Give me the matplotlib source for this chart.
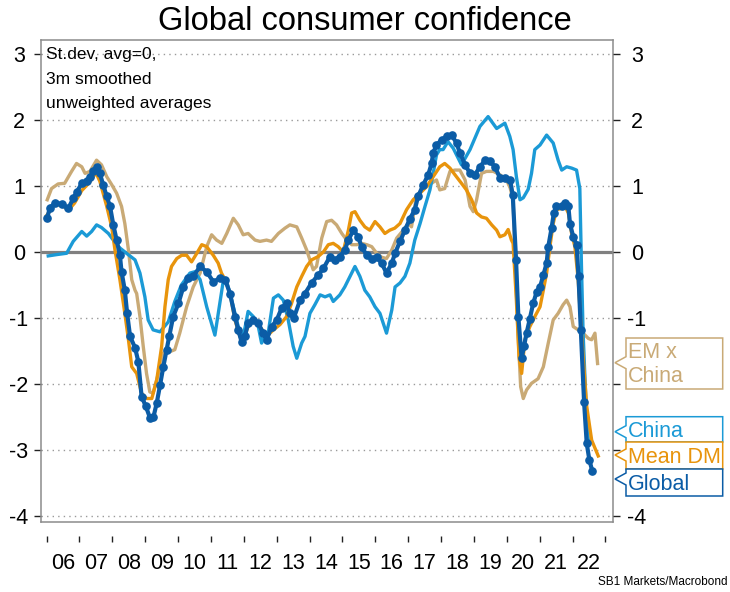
import matplotlib
matplotlib.use('Agg')
import matplotlib.pyplot as plt
from matplotlib.patches import Polygon

plt.rcParams['font.family'] = ['Liberation Sans', 'DejaVu Sans']

# ========================
# data (decimal years)
# ========================
global_t = [2006.02, 2006.10, 2006.26, 2006.46, 2006.66, 2006.81, 2006.92, 2007.07, 2007.22, 2007.32,
            2007.42, 2007.52, 2007.62, 2007.72, 2007.83, 2007.93, 2008.03, 2008.13, 2008.23, 2008.28,
            2008.38, 2008.45, 2008.54, 2008.69, 2008.79, 2008.89, 2009.02, 2009.15, 2009.25, 2009.35,
            2009.45, 2009.55, 2009.65, 2009.73, 2009.85, 2010.01, 2010.16, 2010.31, 2010.46, 2010.67,
            2010.87, 2011.07, 2011.27, 2011.43, 2011.58, 2011.73, 2011.83, 2011.93, 2012.03, 2012.13,
            2012.29, 2012.44, 2012.59, 2012.69, 2012.85, 2013.00, 2013.15, 2013.30, 2013.40, 2013.52,
            2013.71, 2013.86, 2014.06, 2014.26, 2014.42, 2014.62, 2014.77, 2014.92, 2015.07, 2015.18,
            2015.33, 2015.48, 2015.58, 2015.74, 2015.89, 2016.04, 2016.19, 2016.34, 2016.50, 2016.60,
            2016.75, 2016.90, 2017.05, 2017.20, 2017.30, 2017.46, 2017.61, 2017.71, 2017.76, 2017.86,
            2018.02, 2018.17, 2018.32, 2018.47, 2018.57, 2018.73, 2018.88, 2019.03, 2019.18, 2019.34,
            2019.49, 2019.64, 2019.79, 2019.94, 2020.10, 2020.18, 2020.28, 2020.35, 2020.45, 2020.52,
            2020.60, 2020.70, 2020.80, 2020.91, 2021.01, 2021.11, 2021.21, 2021.26, 2021.36, 2021.43,
            2021.51, 2021.67, 2021.77, 2021.87, 2021.92, 2022.02, 2022.12, 2022.18, 2022.25, 2022.35,
            2022.43, 2022.51, 2022.60]
global_v = [0.52, 0.67, 0.74, 0.73, 0.66, 0.81, 0.91, 1.04, 1.07, 1.14,
            1.22, 1.29, 1.19, 1.02, 0.84, 0.69, 0.41, 0.18, -0.05, -0.30,
            -0.58, -0.93, -1.28, -1.45, -1.66, -2.19, -2.34, -2.52, -2.50, -2.29,
            -2.02, -1.74, -1.48, -1.28, -0.98, -0.78, -0.53, -0.40, -0.37, -0.22,
            -0.30, -0.45, -0.40, -0.42, -0.63, -0.98, -1.18, -1.36, -1.28, -1.08,
            -1.03, -1.08, -1.23, -1.33, -1.13, -1.03, -0.85, -0.78, -0.93, -1.00,
            -0.73, -0.63, -0.47, -0.35, -0.25, -0.07, -0.12, -0.07, 0.03, 0.18,
            0.33, 0.23, 0.08, -0.05, -0.10, -0.07, -0.17, -0.32, -0.17, -0.02,
            0.16, 0.33, 0.50, 0.64, 0.84, 1.02, 1.17, 1.34, 1.50, 1.62,
            1.70, 1.75, 1.77, 1.65, 1.50, 1.32, 1.19, 1.17, 1.29, 1.39,
            1.37, 1.29, 1.12, 1.12, 1.09, 0.86, -0.12, -0.98, -1.61, -1.43,
            -1.23, -1.01, -0.78, -0.60, -0.53, -0.35, -0.17, 0.08, 0.36, 0.59,
            0.69, 0.69, 0.74, 0.70, 0.43, 0.23, 0.11, -0.37, -1.18, -2.28,
            -2.90, -3.15, -3.32]

dm_t = [2006.00, 2006.25, 2006.50, 2006.66, 2006.85, 2007.07, 2007.30, 2007.50, 2007.62, 2007.83,
        2007.98, 2008.08, 2008.23, 2008.38, 2008.49, 2008.59, 2008.74, 2008.89, 2009.04, 2009.20,
        2009.35, 2009.50, 2009.60, 2009.70, 2009.80, 2009.96, 2010.11, 2010.26, 2010.41, 2010.57,
        2010.72, 2010.87, 2011.07, 2011.22, 2011.32, 2011.43, 2011.58, 2011.73, 2011.88, 2011.98,
        2012.13, 2012.29, 2012.49, 2012.69, 2012.90, 2013.10, 2013.30, 2013.45, 2013.61, 2013.76,
        2013.91, 2014.06, 2014.26, 2014.42, 2014.57, 2014.72, 2014.87, 2015.02, 2015.18, 2015.28,
        2015.38, 2015.53, 2015.68, 2015.83, 2015.99, 2016.14, 2016.29, 2016.44, 2016.59, 2016.75,
        2016.95, 2017.15, 2017.36, 2017.56, 2017.76, 2017.96, 2018.11, 2018.27, 2018.42, 2018.62,
        2018.77, 2018.93, 2019.08, 2019.23, 2019.38, 2019.54, 2019.69, 2019.79, 2019.94, 2020.04,
        2020.14, 2020.19, 2020.29, 2020.37, 2020.45, 2020.55, 2020.70, 2020.85, 2021.01, 2021.11,
        2021.21, 2021.31, 2021.41, 2021.51, 2021.67, 2021.77, 2021.87, 2021.97, 2022.07, 2022.17,
        2022.27, 2022.43, 2022.58, 2022.78]
dm_v = [0.55, 0.72, 0.70, 0.63, 0.74, 0.93, 1.05, 1.20, 1.07, 0.69,
        0.38, 0.03, -0.42, -0.93, -1.33, -1.74, -1.84, -2.14, -2.22, -2.22,
        -1.94, -1.43, -0.83, -0.42, -0.22, -0.10, -0.05, -0.05, -0.15, -0.02,
        0.11, 0.08, -0.05, -0.17, -0.32, -0.42, -0.63, -1.03, -1.28, -1.33,
        -1.13, -1.03, -1.13, -1.28, -1.18, -1.10, -0.98, -0.78, -0.53, -0.37,
        -0.22, -0.12, -0.07, 0.00, 0.11, 0.13, 0.08, 0.00, 0.33, 0.59,
        0.61, 0.48, 0.38, 0.33, 0.46, 0.38, 0.28, 0.33, 0.36, 0.43,
        0.64, 0.79, 0.89, 0.99, 1.14, 1.29, 1.34, 1.27, 1.17, 1.04,
        0.94, 0.79, 0.59, 0.53, 0.51, 0.41, 0.33, 0.23, 0.26, 0.34,
        0.18, 0.13, -0.73, -1.59, -1.84, -1.33, -1.13, -0.98, -0.83, -0.58,
        -0.32, 0.08, 0.43, 0.64, 0.66, 0.69, 0.59, 0.28, 0.08, -0.42,
        -1.23, -2.34, -2.85, -3.09]

china_t = [2006.05, 2006.31, 2006.61, 2006.81, 2007.07, 2007.22, 2007.37, 2007.52, 2007.67, 2007.88,
           2008.03, 2008.23, 2008.43, 2008.69, 2008.84, 2008.99, 2009.09, 2009.24, 2009.45, 2009.70,
           2009.90, 2010.10, 2010.36, 2010.51, 2010.67, 2010.87, 2011.12, 2011.38, 2011.48, 2011.63,
           2011.78, 2011.93, 2012.03, 2012.13, 2012.29, 2012.44, 2012.54, 2012.64, 2012.74, 2012.90,
           2013.05, 2013.20, 2013.35, 2013.50, 2013.61, 2013.76, 2013.86, 2014.01, 2014.16, 2014.32,
           2014.47, 2014.62, 2014.72, 2014.92, 2015.07, 2015.23, 2015.38, 2015.53, 2015.68, 2015.83,
           2015.99, 2016.14, 2016.34, 2016.50, 2016.60, 2016.75, 2016.90, 2017.05, 2017.20, 2017.36,
           2017.51, 2017.66, 2017.76, 2017.86, 2017.96, 2018.06, 2018.21, 2018.37, 2018.52, 2018.62,
           2018.88, 2019.18, 2019.43, 2019.69, 2019.94, 2020.09, 2020.19, 2020.29, 2020.40, 2020.50,
           2020.65, 2020.75, 2020.85, 2021.01, 2021.21, 2021.41, 2021.56, 2021.67, 2021.82, 2021.97,
           2022.12, 2022.22, 2022.27, 2022.32, 2022.40, 2022.48]
china_v = [-0.06, -0.04, -0.02, 0.16, 0.31, 0.24, 0.31, 0.41, 0.37, 0.28,
           0.18, 0.06, -0.02, -0.12, -0.32, -0.68, -1.03, -1.18, -1.21, -1.06,
           -0.75, -0.50, -0.32, -0.30, -0.42, -0.83, -1.26, -0.42, -0.45, -0.73,
           -1.03, -1.33, -1.16, -0.90, -0.98, -1.13, -1.38, -1.28, -1.23, -0.70,
           -0.65, -0.73, -1.03, -1.43, -1.61, -1.38, -1.28, -0.93, -0.80, -0.65,
           -0.68, -0.65, -0.75, -0.65, -0.53, -0.37, -0.22, -0.37, -0.58, -0.68,
           -0.83, -0.93, -1.23, -0.88, -0.53, -0.47, -0.37, -0.17, 0.18, 0.43,
           0.69, 0.94, 1.19, 1.47, 1.55, 1.55, 1.67, 1.57, 1.42, 1.32,
           1.55, 1.90, 2.05, 1.87, 1.95, 1.75, 1.55, 1.14, 0.79, 0.82,
           0.95, 1.19, 1.55, 1.62, 1.77, 1.65, 1.39, 1.24, 1.29, 1.27,
           1.24, 0.96, -0.22, -1.23, -2.20, -2.88]

em_t = [2006.02, 2006.15, 2006.35, 2006.55, 2006.76, 2006.91, 2007.07, 2007.17, 2007.32, 2007.52,
        2007.67, 2007.83, 2007.98, 2008.13, 2008.28, 2008.38, 2008.49, 2008.59, 2008.69, 2008.74,
        2008.84, 2008.94, 2009.04, 2009.14, 2009.24, 2009.40, 2009.55, 2009.75, 2009.90, 2010.05,
        2010.26, 2010.46, 2010.67, 2010.87, 2011.02, 2011.17, 2011.33, 2011.48, 2011.68, 2011.83,
        2011.98, 2012.13, 2012.34, 2012.49, 2012.69, 2012.84, 2013.05, 2013.25, 2013.40, 2013.61,
        2013.76, 2013.91, 2014.01, 2014.11, 2014.21, 2014.37, 2014.52, 2014.67, 2014.82, 2014.98,
        2015.13, 2015.28, 2015.43, 2015.58, 2015.74, 2015.89, 2016.04, 2016.19, 2016.34, 2016.50,
        2016.65, 2016.85, 2017.00, 2017.10, 2017.25, 2017.41, 2017.56, 2017.71, 2017.86, 2017.96,
        2018.11, 2018.27, 2018.42, 2018.57, 2018.73, 2018.88, 2018.98, 2019.08, 2019.23, 2019.38,
        2019.59, 2019.79, 2019.99, 2020.10, 2020.19, 2020.26, 2020.34, 2020.42, 2020.50, 2020.60,
        2020.75, 2020.95, 2021.11, 2021.26, 2021.41, 2021.56, 2021.71, 2021.82, 2021.92, 2022.02,
        2022.17, 2022.32, 2022.48, 2022.58, 2022.68, 2022.76]
em_v = [0.79, 0.96, 1.03, 1.04, 1.22, 1.34, 1.29, 1.19, 1.22, 1.39,
        1.32, 1.14, 1.02, 0.89, 0.69, 0.43, 0.03, -0.42, -0.58, -0.63,
        -0.98, -1.43, -1.84, -2.12, -2.14, -1.84, -1.53, -1.51, -1.48, -1.23,
        -0.83, -0.53, -0.32, 0.08, 0.26, 0.18, 0.13, 0.28, 0.51, 0.41,
        0.26, 0.28, 0.18, 0.16, 0.18, 0.16, 0.28, 0.36, 0.41, 0.38,
        0.21, 0.03, -0.12, -0.27, -0.22, 0.21, 0.46, 0.48, 0.41, 0.28,
        0.18, 0.11, 0.11, 0.13, 0.11, 0.08, -0.02, -0.08, -0.10, 0.03,
        0.21, 0.33, 0.43, 0.38, 0.84, 0.94, 0.99, 1.04, 1.09, 0.94,
        0.96, 1.22, 1.24, 1.24, 1.09, 0.69, 0.61, 0.79, 1.19, 1.22,
        1.22, 1.17, 1.09, 0.97, 0.79, -0.22, -1.23, -2.04, -2.22, -2.09,
        -1.99, -1.92, -1.74, -1.38, -1.03, -0.93, -0.80, -0.73, -0.83, -1.13,
        -1.18, -1.23, -1.31, -1.33, -1.23, -1.69]

year_ticks = list(range(2006, 2024))
year_labels = ['06', '07', '08', '09', '10', '11', '12', '13', '14', '15',
               '16', '17', '18', '19', '20', '21', '22']
y_ticks = [-4, -3, -2, -1, 0, 1, 2, 3]
# right hand labels: -2 and -3 sit behind the series callouts
y_right_labels = ['-4', '', '', '-1', '0', '1', '2', '3']

c_global = '#0B5CA6'
c_dm = '#E8940C'
c_china = '#1B9AD6'
c_em = '#C9AA76'

# ========================
# figure
# ========================
W, H = 730, 592
fig = plt.figure(figsize=(W / 100, H / 100), dpi=100)


def fx(px):
    return px / W


def fy(py):
    return 1 - py / H


ax = fig.add_axes([fx(41), fy(522), (612.7 - 41) / W, (522 - 40) / H])
ax.set_xlim(2005.83, 2023.22)
ax.set_ylim(-4.09, 3.21)

# grid + zero line
for v in y_ticks:
    if v == 0:
        ax.axhline(v, color='#808080', lw=2.3, zorder=2)
    else:
        ax.axhline(v, color='#9a9a9a', lw=1.0, ls=(0, (1, 3)), zorder=1)

ax.plot(em_t, em_v, color=c_em, lw=2.4, zorder=3)
ax.plot(china_t, china_v, color=c_china, lw=2.4, zorder=4)
ax.plot(dm_t, dm_v, color=c_dm, lw=2.4, zorder=5)
ax.plot(global_t, global_v, color=c_global, lw=3.0, marker='o', ms=5.2, zorder=6)

for s in ax.spines.values():
    s.set_color('#8c8c8c')
    s.set_linewidth(1.1)

# left y axis, labels centred
ax.set_yticks(y_ticks)
ax.set_yticklabels([str(v) for v in y_ticks])
ax.tick_params(axis='y', which='major', left=True, right=False, labelleft=True, labelright=False,
               direction='out', length=5, width=1, labelsize=15.5, color='#222222', pad=10.8)
for t in ax.yaxis.get_major_ticks():
    t.label1.set_horizontalalignment('center')

# right y axis
axr = ax.twinx()
axr.set_ylim(ax.get_ylim())
axr.set_yticks(y_ticks)
axr.set_yticklabels(y_right_labels)
axr.tick_params(axis='y', direction='out', length=5, width=1, labelsize=15.5, color='#222222', pad=12.5)
for t in axr.yaxis.get_major_ticks():
    t.label2.set_horizontalalignment('center')
for s in axr.spines.values():
    s.set_visible(False)

# x axis: ticks detached below the frame
ax.set_xticks([])
sec = ax.secondary_xaxis(-14 / 482)
sec.spines['bottom'].set_visible(False)
sec.set_xticks(year_ticks)
sec.set_xticklabels([''] * len(year_ticks))
sec.set_xticks([y + 0.5 for y in year_ticks[:-1]], minor=True)
sec.set_xticklabels(year_labels, minor=True)
sec.tick_params(axis='x', which='major', direction='out', length=4.5, width=1, color='#222222')
sec.tick_params(axis='x', which='minor', length=0, pad=12, labelsize=15.5)

# texts
fig.text(0.5, fy(30), 'Global consumer confidence', ha='center', va='baseline', fontsize=23.5)
fig.text(fx(46.5), fy(58.5), 'St.dev, avg=0,', va='baseline', fontsize=12.5)
fig.text(fx(46.5), fy(83.5), '3m smoothed', va='baseline', fontsize=12.5)
fig.text(fx(46.5), fy(108), 'unweighted averages', va='baseline', fontsize=12.5)
fig.text(fx(728), fy(585), 'SB1 Markets/Macrobond', ha='right', va='baseline', fontsize=8.5)


# callout labels at the right
def callout(y0, y1, tip, color):
    x0, x1, xt = 626, 722.7, 615
    pts = [(x0, y0), (x1, y0), (x1, y1), (x0, y1), (x0, tip + 6), (xt, tip), (x0, tip - 6)]
    poly = Polygon([(fx(x), fy(y)) for x, y in pts], closed=True, transform=fig.transFigure,
                   facecolor='white', edgecolor=color, lw=1.1, zorder=10)
    fig.add_artist(poly)


callout(338, 389, 362.7, c_em)
callout(416.7, 442, 431.7, c_china)
callout(442, 469, 455, c_dm)
callout(469, 496, 479, c_global)

lab_kw = dict(va='baseline', fontsize=15.5, zorder=11)
fig.text(fx(627.5), fy(358), 'EM x', color=c_em, **lab_kw)
fig.text(fx(627.5), fy(382), 'China', color=c_em, **lab_kw)
fig.text(fx(627.5), fy(437), 'China', color=c_china, **lab_kw)
fig.text(fx(627.5), fy(463), 'Mean DM', color=c_dm, **lab_kw)
fig.text(fx(627.5), fy(489.5), 'Global', color=c_global, **lab_kw)

fig.savefig('out.png', dpi=100)
